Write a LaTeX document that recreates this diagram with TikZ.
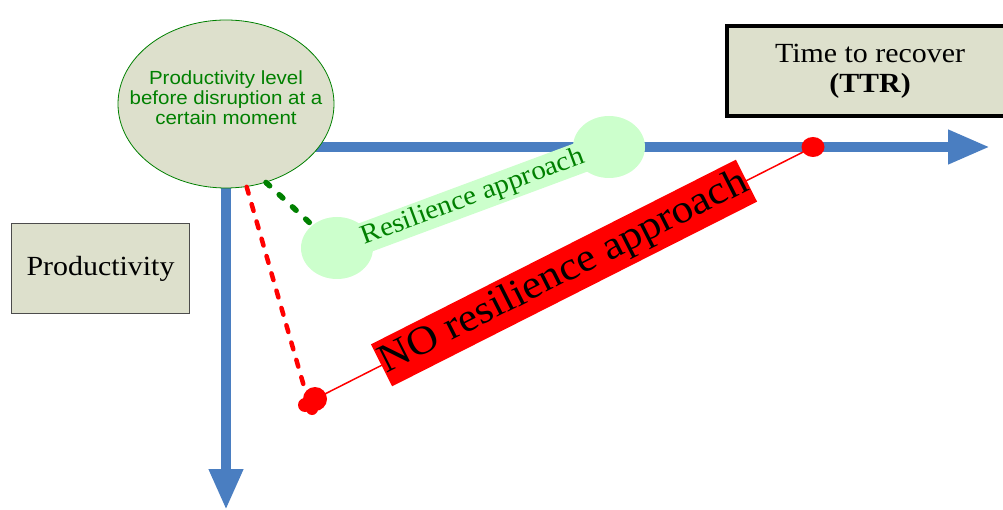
\documentclass[tikz,border=0pt]{standalone}
\usepackage{fontspec}
\setmainfont{Liberation Serif}[FakeStretch=1.08]
\newfontfamily\labelsans{Liberation Sans}[FakeStretch=1.08]
\usetikzlibrary{arrows.meta,shapes.geometric}

\definecolor{axisblue}{RGB}{74,126,193}
\definecolor{panel}{RGB}{221,224,204}
\definecolor{resgreen}{RGB}{204,255,204}
\definecolor{darkgreen}{RGB}{0,128,0}

\tikzset{
  axisline/.style={draw=axisblue, line width=10pt},
  panelbox/.style={fill=panel, inner sep=0pt, align=center,
    font=\fontsize{27.7}{30}\selectfont},
  reslobe/.style={ellipse, fill=resgreen, minimum width=72pt, minimum height=62pt, inner sep=0pt},
  reddot/.style={ellipse, fill=red, inner sep=0pt},
  dropline/.style={line cap=round, line width=5pt}
}

\begin{document}
\begin{tikzpicture}[x=1pt,y=-1pt]
\useasboundingbox (0,0) rectangle (1003,510);

% axes
\coordinate (origin) at (226,147);
\coordinate (timeend) at (990,147);
\coordinate (prodend) at (226,510);
\draw[axisline, -{Triangle[length=42pt,width=32pt]}] (origin) -- (timeend);
\draw[axisline, -{Triangle[length=41pt,width=32pt]}] (origin) -- (prodend);

% resilience path (green band)
\node[reslobe] (resA) at (337,248) {};
\node[reslobe] (resB) at (609,147) {};
\draw[resgreen, line width=31pt] (resA.center) --
  node[sloped, text=darkgreen, inner sep=0pt, font=\fontsize{27}{27}\selectfont] (restext)
  {Resilience approach} (resB.center);

% no-resilience path (red)
\node[reddot, minimum width=24pt, minimum height=24pt] (blob) at (315,399) {};
\fill[red] ([shift={(-10,6)}]blob.center) circle (7);
\fill[red] ([shift={(-3,10)}]blob.center) circle (6);
\node[reddot, minimum width=23pt, minimum height=20pt] (recdot) at (813,147) {};
\draw[red, line width=1.5pt] (blob.center) --
  node[sloped, fill=red, text=black, minimum width=409pt, minimum height=47pt, inner sep=0pt,
       font=\fontsize{40}{40}\selectfont] (nores) {NO resilience approach} (recdot.center);

% starting level
\node[ellipse, draw=darkgreen, line width=0.8pt, fill=panel, minimum width=216pt,
      minimum height=168pt, inner sep=0pt] (level) at (226,104) {};
\node[text=darkgreen, align=center, inner sep=0pt,
      font=\labelsans\fontsize{19}{20}\selectfont] (leveltext) at (226,98)
  {Productivity level\\before disruption at a\\certain moment};

% drops after the disruption
\coordinate (dropend) at (305,390);
\draw[red, dropline, line width=4.5pt, dash pattern=on 7pt off 11pt] (level.-76) -- (dropend);
\draw[darkgreen, dropline, line width=5.5pt, dash pattern=on 5pt off 13pt] (level.-63) -- (resA);

% labels
\node[panelbox, draw=black, line width=4.5pt, minimum width=286pt, minimum height=90pt]
  (ttr) at (870,71) {Time to recover\\\textbf{(TTR)}};
\node[panelbox, draw=black!70, line width=1.2pt, minimum width=178pt, minimum height=90pt]
  (prod) at (100.5,268.5) {Productivity};
\end{tikzpicture}
\end{document}
